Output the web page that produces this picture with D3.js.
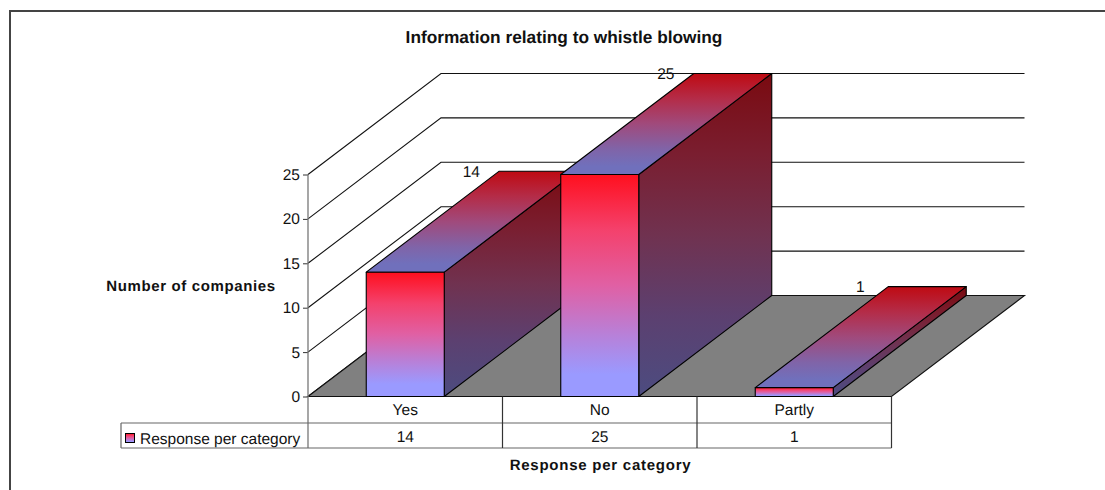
<!DOCTYPE html>
<html>
<head>
<meta charset="utf-8">
<script src="https://cdn.jsdelivr.net/npm/d3@7/dist/d3.min.js"></script>
<style>
html, body { margin: 0; padding: 0; background: #fff; }
svg { display: block; }
text { font-family: "Liberation Sans", Arial, sans-serif; fill: #111; text-rendering: geometricPrecision; }
</style>
</head>
<body>
<div id="chart"></div>
<script>
// Chart content
const chartTitle = "Information relating to whistle blowing";
const yAxisTitle = "Number of companies";
const xAxisTitle = "Response per category";
const seriesName = "Response per category";
const categories = ["Yes", "No", "Partly"];
const responses = [14, 25, 1];
const yTicks = [0, 5, 10, 15, 20, 25];

const width = 1105, height = 490;
const labelSize = 15.5;
const svg = d3.select("#chart").append("svg").attr("width", width).attr("height", height);

// Oblique projection: the plot's front plane plus an offset towards the back
const x = d3.scaleBand().domain(categories).range([308, 891.5]).paddingInner(0).paddingOuter(0);
const y = d3.scaleLinear().domain([0, 25]).range([396.5, 174.5]);
const depthX = d3.scaleLinear().domain([0, 1]).range([0, 133]);
const depthY = d3.scaleLinear().domain([0, 1]).range([0, -101]);
const barInset = (x.bandwidth() - 78) / 2;
const back = (px, py) => [px + depthX(1), py + depthY(1)];
const poly = pts => "M" + pts.map(p => p.join(",")).join("L") + "Z";

// Vertical gradients shared by every bar face
const defs = svg.append("defs");
const faceGradient = (id, stops) => {
  const g = defs.append("linearGradient").attr("id", id)
    .attr("x1", 0).attr("y1", 0).attr("x2", 0).attr("y2", 1);
  g.selectAll("stop").data(stops).join("stop")
    .attr("offset", d => d[0]).attr("stop-color", d => d[1]);
};
faceGradient("front", [[0, "#ff0f1e"], [0.25, "#f4416c"], [0.5, "#e060a4"], [0.72, "#b880d8"], [0.9, "#9a9aff"], [1, "#9a9aff"]]);
faceGradient("topFace", [[0, "#bf0a12"], [0.25, "#b42c48"], [0.5, "#a04a7c"], [0.75, "#8064a8"], [0.92, "#7070bc"], [1, "#7070bc"]]);
faceGradient("sideFace", [[0, "#7a0a10"], [0.25, "#7a1e30"], [0.5, "#703250"], [0.75, "#5c4070"], [1, "#4c4c80"]]);

// Outer frame: only the top and left edges fall inside the window
svg.append("path").attr("d", "M10,490V11H1105").attr("fill", "none")
  .attr("stroke", "#444").attr("stroke-width", 2);

svg.append("text").attr("x", 564).attr("y", 42.5).attr("text-anchor", "middle")
  .attr("font-weight", "bold").attr("font-size", 17.3).text(chartTitle);
svg.append("text").attr("x", 191).attr("y", 291).attr("text-anchor", "middle")
  .attr("font-weight", "bold").attr("font-size", 15).attr("letter-spacing", 0.62).text(yAxisTitle);
svg.append("text").attr("x", 600.5).attr("y", 470).attr("text-anchor", "middle")
  .attr("font-weight", "bold").attr("font-size", 15).attr("letter-spacing", 0.75).text(xAxisTitle);

// Gridlines across the side and back walls
const x0 = x.range()[0], x1 = x.range()[1];
const wallRight = back(x1, y(0))[0];
svg.append("g").selectAll("path").data(yTicks).join("path")
  .attr("fill", "none").attr("stroke", "#111").attr("stroke-width", 1.1)
  .attr("d", t => {
    const b = back(x0, y(t));
    return `M${x0},${y(t)}L${b[0]},${b[1]}L${wallRight},${b[1]}`;
  });

// Floor
svg.append("path")
  .attr("d", poly([[x0, y(0)], back(x0, y(0)), back(x1, y(0)), [x1, y(0)]]))
  .attr("fill", "#808080").attr("stroke", "#111").attr("stroke-width", 1.1);

// Bars, left to right so nearer faces overlap correctly
const bars = svg.append("g").selectAll("g").data(categories).join("g");
bars.each(function(c, i) {
  const g = d3.select(this);
  const l = x(c) + barInset, r = l + 78, t = y(responses[i]), b = y(0);
  const edge = sel => sel.attr("stroke", "#000").attr("stroke-width", 1.1).attr("stroke-linejoin", "round");
  g.append("path").attr("d", poly([[r, b], back(r, b), back(r, t), [r, t]]))
    .attr("fill", "url(#sideFace)").call(edge);
  g.append("path").attr("d", poly([[l, t], back(l, t), back(r, t), [r, t]]))
    .attr("fill", "url(#topFace)").call(edge);
  g.append("rect").attr("x", l).attr("y", t).attr("width", 78).attr("height", b - t)
    .attr("fill", "url(#front)").call(edge);
});

// Value labels beside the back edge of each bar top
svg.append("g").selectAll("text").data(categories).join("text")
  .attr("x", c => back(x(c) + barInset, 0)[0] - 28)
  .attr("y", (c, i) => back(0, y(responses[i]))[1] + 5.5)
  .attr("text-anchor", "middle").attr("font-size", labelSize)
  .text((c, i) => responses[i]);

// Value axis with ticks on the left of the front plane
const tableBottom = 448;
const axisG = svg.append("g").attr("transform", `translate(${x0},0)`)
  .call(d3.axisLeft(y).tickValues(yTicks).tickSize(5).tickPadding(3));
axisG.select(".domain").remove();
axisG.selectAll("line").attr("stroke", "#333");
axisG.selectAll("text").attr("font-size", labelSize).attr("font-family", '"Liberation Sans", Arial, sans-serif').attr("fill", "#111");
svg.append("line").attr("x1", x0).attr("x2", x0).attr("y1", y(25)).attr("y2", tableBottom)
  .attr("stroke", "#777").attr("stroke-width", 1.3);

// Data table under the plot
const rowY = 423, legendLeft = 121;
const tableLines = svg.append("g").attr("stroke", "#666").attr("stroke-width", 1.2).attr("fill", "none");
tableLines.append("path").attr("d", `M${legendLeft},${rowY}H${x1}M${legendLeft},${tableBottom}H${x1}M${legendLeft},${rowY}V${tableBottom}`);
tableLines.selectAll("line").data(categories).join("line")
  .attr("x1", c => x(c) + x.bandwidth()).attr("x2", c => x(c) + x.bandwidth())
  .attr("y1", y(0)).attr("y2", tableBottom).attr("stroke", "#333");

svg.append("g").selectAll("text").data(categories).join("text")
  .attr("x", c => x(c) + x.bandwidth() / 2).attr("y", 415)
  .attr("text-anchor", "middle").attr("font-size", labelSize).text(c => c);
svg.append("g").selectAll("text").data(responses).join("text")
  .attr("x", (d, i) => x(categories[i]) + x.bandwidth() / 2).attr("y", 442)
  .attr("text-anchor", "middle").attr("font-size", labelSize).text(d => d);

svg.append("rect").attr("x", 125.5).attr("y", 433.5).attr("width", 9).attr("height", 9)
  .attr("fill", "url(#front)").attr("stroke", "#000");
svg.append("text").attr("x", 140).attr("y", 443.5).attr("font-size", labelSize).text(seriesName);
</script>
</body>
</html>
